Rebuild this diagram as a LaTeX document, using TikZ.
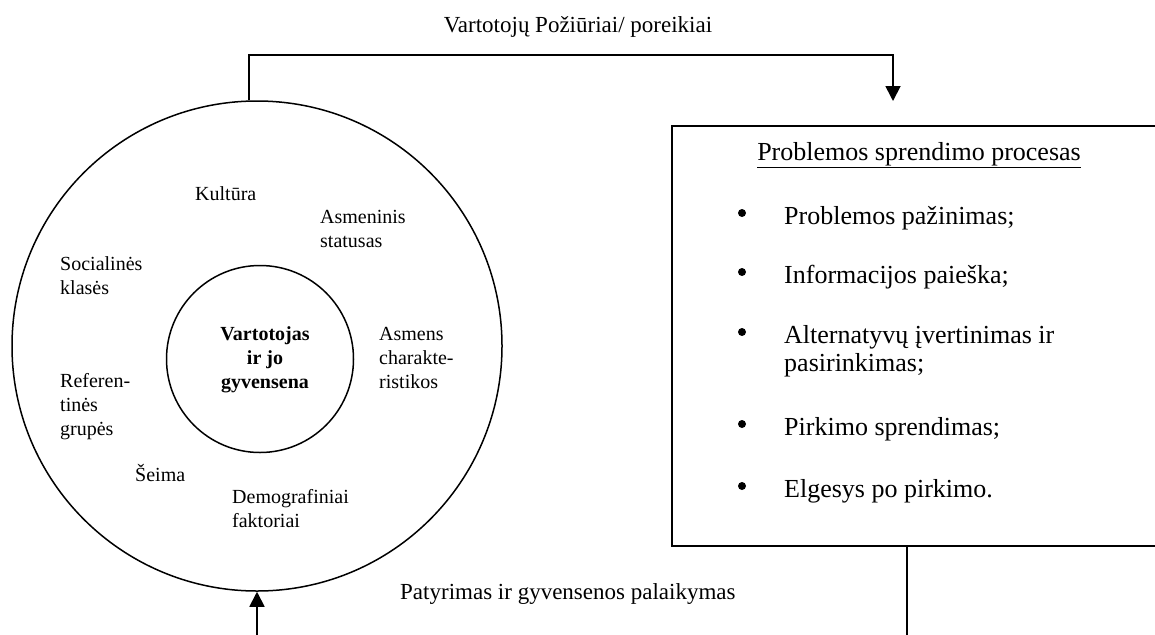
\documentclass[tikz,border=0pt]{standalone}
\usepackage{fontspec}
\setmainfont{Liberation Serif}
\usetikzlibrary{arrows.meta}
% stacked lines whose baseline is the first line
\newcommand\rowsl[1]{\begin{tabular}[t]{@{}l@{}}#1\end{tabular}}
\newcommand\rowsc[1]{\begin{tabular}[t]{@{}c@{}}#1\end{tabular}}
\begin{document}
\begin{tikzpicture}[x=1pt,y=-1pt,
  conn/.style={line width=1.8pt},
  ring/.style={circle,draw,line width=1.5pt,inner sep=0pt},
  lbl/.style={font=\fontsize{20}{24}\selectfont,inner sep=0pt,anchor=base west},
  flowlbl/.style={font=\fontsize{23}{27}\selectfont,inner sep=0pt},
  boxtxt/.style={font=\fontsize{26}{28}\selectfont,inner sep=0pt,anchor=base west},
  dot/.style={circle,fill=black,inner sep=0pt,minimum size=8pt},
  tip/.style={-{Triangle[width=15pt,length=15pt]}}
]
\useasboundingbox (0,0) rectangle (1155,634);
\clip (0,0) rectangle (1155,634);

% consumer and the factors around
\node[ring,minimum size=490pt] (outer) at (257,346) {};
\node[ring,minimum size=187pt] (inner) at (260,359) {};

\node[lbl] (kult) at (195,200) {Kultūra};
\node[lbl] (stat) at (320,223) {\rowsl{Asmeninis\\statusas}};
\node[lbl] (soc) at (60,270) {\rowsl{Socialinės\\klasės}};
\node[lbl,anchor=base] (core) at (265,340) {\rowsc{\bfseries Vartotojas\\\bfseries ir jo\\\bfseries gyvensena}};
\node[lbl] (char) at (379,340) {\rowsl{Asmens\\charakte-\\ristikos}};
\node[lbl] (ref) at (60,387) {\rowsl{Referen-\\tinės\\grupės}};
\node[lbl] (seima) at (135,481) {Šeima};
\node[lbl] (demo) at (232,503) {\rowsl{Demografiniai\\faktoriai}};

% decision process box
\node[draw,line width=1.8pt,anchor=north west,minimum width=520pt,minimum height=420pt,inner sep=0pt] (box) at (671,125) {};
\node[font=\fontsize{26}{30}\selectfont,inner sep=0pt,anchor=base] (title) at (919,160) {\underline{Problemos sprendimo procesas}};

\node[dot] (b1) at (742,213) {};
\node[boxtxt] (i1) at (784,224) {Problemos pažinimas;};
\node[dot] (b2) at (742,272) {};
\node[boxtxt] (i2) at (784,283) {Informacijos paieška;};
\node[dot] (b3) at (742,332) {};
\node[boxtxt] (i3) at (784,343) {\rowsl{Alternatyvų įvertinimas ir\\pasirinkimas;}};
\node[dot] (b4) at (742,424) {};
\node[boxtxt] (i4) at (784,435) {Pirkimo sprendimas;};
\node[dot] (b5) at (742,486) {};
\node[boxtxt] (i5) at (784,497) {Elgesys po pirkimo.};

% connectors
\coordinate (topbend) at (893,55);
\coordinate (backout) at (907,640);
\coordinate (backin) at (257,640);

\node[flowlbl,anchor=base] (needs) at (578,33) {Vartotojų Požiūriai/ poreikiai};
\node[flowlbl,anchor=base west] (exp) at (400,599) {Patyrimas ir gyvensenos palaikymas};

\draw[conn,tip] ([xshift=-8pt]outer.north) |- (topbend) -- ([yshift=24pt]box.north -| topbend);
\draw[conn] (box.south -| backout) -- (backout);
\draw[conn,tip] (backin) -- (outer.south);
\end{tikzpicture}
\end{document}
